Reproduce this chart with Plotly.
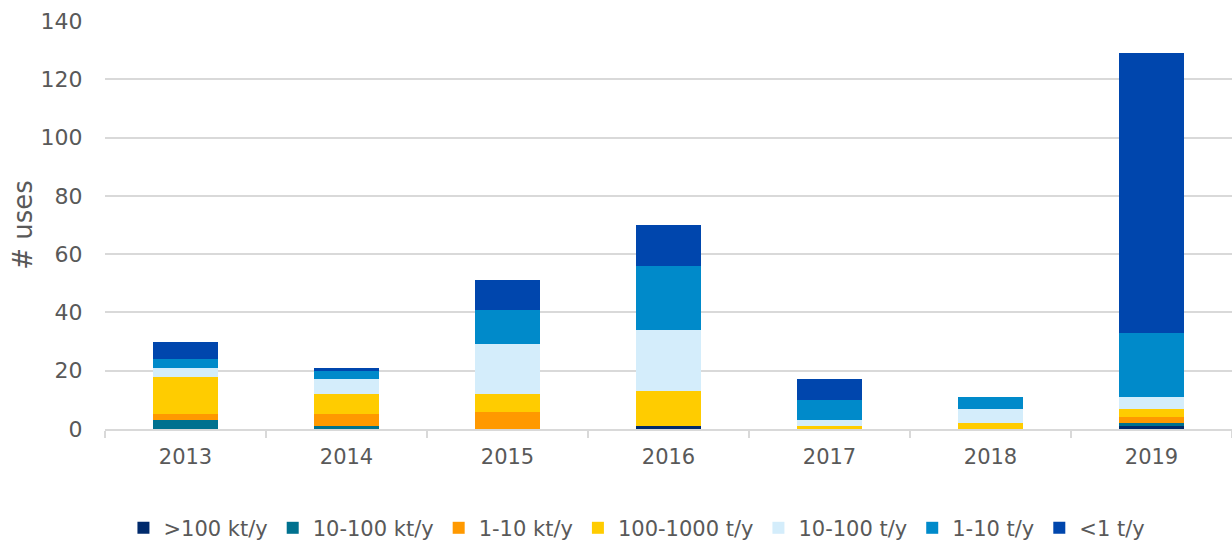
import plotly.graph_objects as go

years = ["2013", "2014", "2015", "2016", "2017", "2018", "2019"]
series_names = [">100 kt/y", "10-100 kt/y", "1-10 kt/y", "100-1000 t/y", "10-100 t/y", "1-10 t/y", "<1 t/y"]
gt100kt = [0, 0, 0, 1, 0, 0, 1]
kt10_100 = [3, 1, 0, 0, 0, 0, 1]
kt1_10 = [2, 4, 6, 0, 0, 0, 2]
t100_1000 = [13, 7, 6, 12, 1, 2, 3]
t10_100 = [3, 5, 17, 21, 2, 5, 4]
t1_10 = [3, 3, 12, 22, 7, 4, 22]
lt1 = [6, 1, 10, 14, 7, 0, 96]
series_values = [gt100kt, kt10_100, kt1_10, t100_1000, t10_100, t1_10, lt1]
colors = ["#002A6C", "#00718F", "#FF9900", "#FFCC00", "#D4EDFB", "#008ACA", "#0046AD"]

fig = go.Figure()
for name, vals, col in zip(series_names, series_values, colors):
    fig.add_trace(go.Bar(x=years, y=vals, name=name, marker=dict(color=col, line=dict(width=0))))

fig.update_layout(
    barmode="stack",
    bargap=0.595,
    width=1232, height=540,
    margin=dict(l=105, r=0, t=21, b=111, autoexpand=False),
    plot_bgcolor="white", paper_bgcolor="white",
    font=dict(family="DejaVu Sans", size=21, color="#595959"),
    legend=dict(orientation="h", x=0.472, xanchor="center", y=-0.243, yanchor="middle",
                font=dict(size=21, color="#595959"), traceorder="normal", itemwidth=30),
    yaxis=dict(range=[0, 140], dtick=20, showgrid=True, gridcolor="#D9D9D9", gridwidth=1.5,
               zeroline=False, title=dict(text="# uses", font=dict(size=26, color="#595959"), standoff=0),
               tickfont=dict(size=22), ticks="outside", ticklen=17, tickcolor="rgba(0,0,0,0)"),
    xaxis=dict(showline=True, linecolor="#D9D9D9", linewidth=1.5, ticks="outside", tickson="boundaries",
               tickcolor="#D9D9D9", ticklen=7, tickwidth=1.5, tickfont=dict(size=21), ticklabelstandoff=8),
)
fig.write_html("out.html", config={"displayModeBar": False},
               post_script="document.body.style.margin='0';document.body.style.padding='0';")
